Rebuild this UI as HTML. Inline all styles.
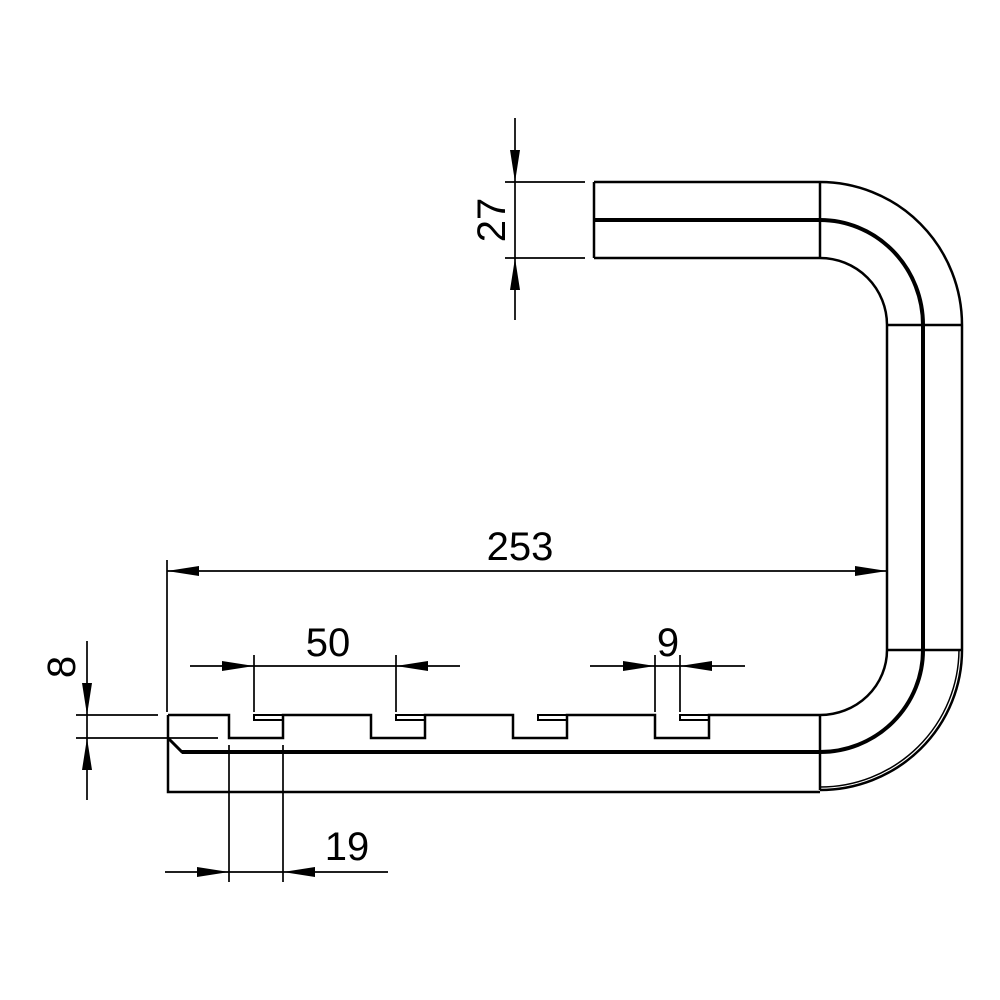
<!DOCTYPE html>
<html><head><style>body{margin:0;background:#fff}svg{display:block}</style></head><body>
<svg width="1000" height="1000" viewBox="0 0 1000 1000" xmlns="http://www.w3.org/2000/svg">
<g fill="none" stroke="#000" stroke-width="2.5">
<path d="M594 182H820M594 258H820M594 182V258M820 182V258"/>
<path d="M594 220H820" stroke-width="4"/>
<path d="M820 182A142 143 0 0 1 962 325"/>
<path d="M820 220A103 105 0 0 1 923 325" stroke-width="4"/>
<path d="M820 258A67 67 0 0 1 887 325"/>
<path d="M887 325V650M962 325V650M887 325H962M887 650H962"/>
<path d="M923 325V650" stroke-width="4"/>
<path d="M887 650A67 65 0 0 1 820 715"/>
<path d="M923 650A103 102 0 0 1 820 752" stroke-width="4"/>
<path d="M962 650A142 140 0 0 1 820 790"/>
<path d="M959 650A139 138 0 0 1 820 787" stroke-width="1.5"/>
<path d="M820 715V790"/>
<path d="M168 715H229V738H283V715H371V738H425V715H513V738H567V715H655V738H709V715H820"/>
<path d="M168 715V792H820"/>
<path d="M168 738L182 752H820" stroke-width="3"/>
<path d="M182 752H820" stroke-width="4"/>
<path d="M254 715H283V720H254ZM396 715H425V720H396ZM538 715H567V720H538ZM680 715H709V720H680Z" stroke-width="2"/>
<g stroke-width="1.7">
<path d="M505 182H585M505 258H585M515 118V320"/>
<path d="M167 560V712M167 571H887"/>
<path d="M254 655V712M396 655V712M190 666H460"/>
<path d="M655 655V712M680 655V712M590 666H745"/>
<path d="M229 745V882M283 745V882M165 872H388"/>
<path d="M76 715H158M76 738H218M87 641V800"/>
</g>
</g>
<g fill="#000">
<path d="M515 182L510 150H520Z"/><path d="M515 258L510 290H520Z"/>
<path d="M167 571L199 566V576Z"/><path d="M887 571L855 566V576Z"/>
<path d="M254 666L222 661V671Z"/><path d="M396 666L428 661V671Z"/>
<path d="M655 666L623 661V671Z"/><path d="M680 666L712 661V671Z"/>
<path d="M229 872L197 867V877Z"/><path d="M283 872L315 867V877Z"/>
<path d="M87 715L82 683H92Z"/><path d="M87 738L82 770H92Z"/>
</g>
<g font-family="Liberation Sans, sans-serif" font-size="40" fill="#000">
<text x="520" y="560" text-anchor="middle">253</text>
<text x="328" y="656" text-anchor="middle">50</text>
<text x="668" y="656" text-anchor="middle">9</text>
<text x="347" y="860" text-anchor="middle">19</text>
<text transform="translate(505,220) rotate(-90)" text-anchor="middle">27</text>
<text transform="translate(75,667) rotate(-90)" text-anchor="middle">8</text>
</g>
</svg>
</body></html>
